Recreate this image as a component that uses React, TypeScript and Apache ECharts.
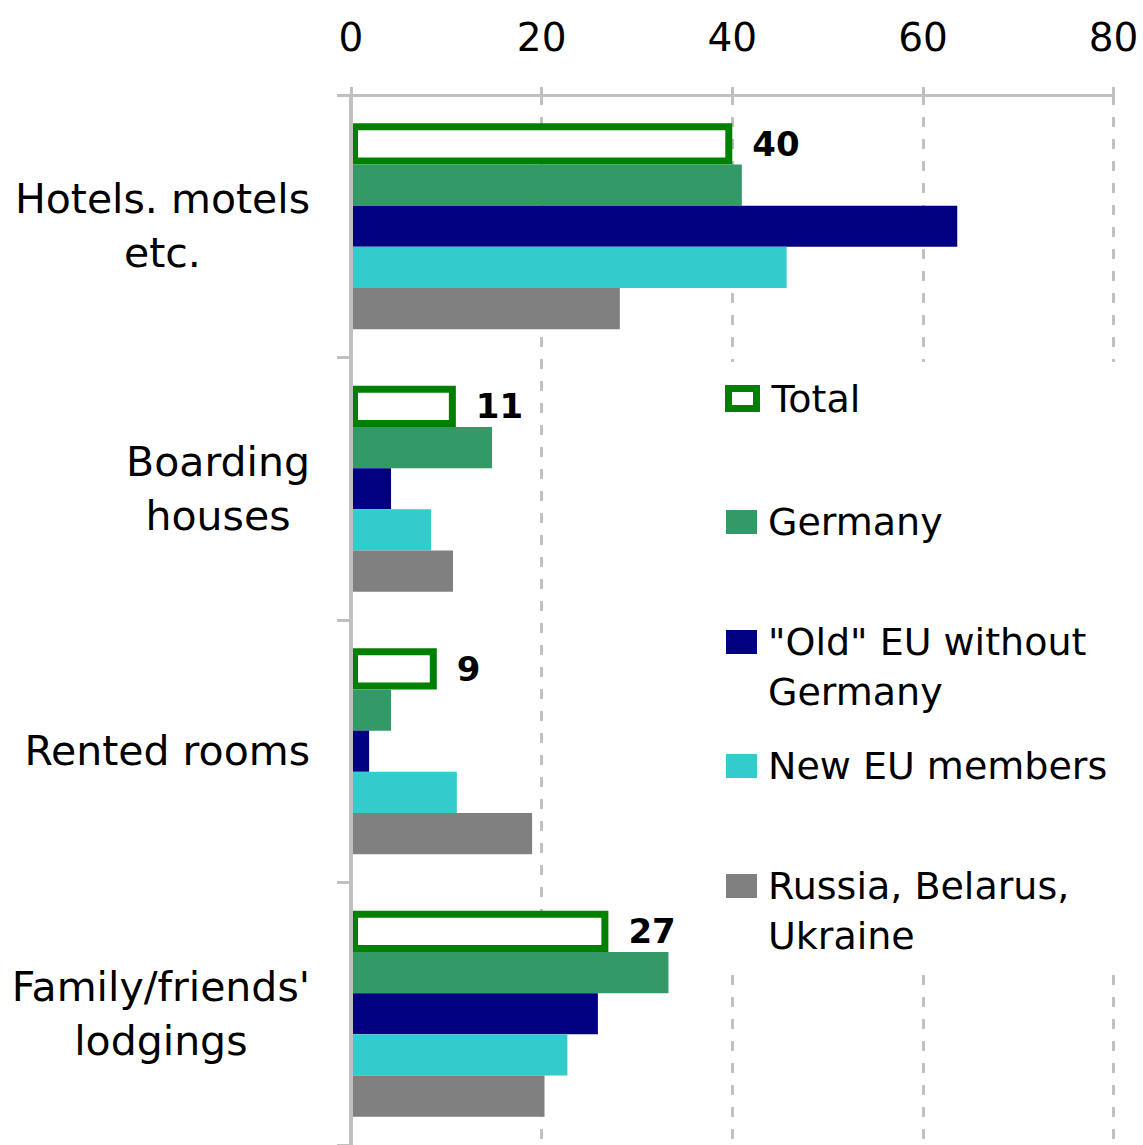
import React, { useEffect, useRef } from "react";
import * as echarts from "echarts";

const categories = [
  "Hotels. motels\netc.",
  "Boarding\nhouses",
  "Rented rooms",
  "Family/friends'\nlodgings",
];
const seriesNames = [
  "Total",
  "Germany",
  "\"Old\" EU without Germany",
  "New EU members",
  "Russia, Belarus, Ukraine",
];
const legendLabels = [
  "Total",
  "Germany",
  "\"Old\" EU without\nGermany",
  "New EU members",
  "Russia, Belarus,\nUkraine",
];
const total = [40, 11, 9, 27];
const germany = [41, 14.8, 4.2, 33.3];
const oldEU = [63.6, 4.2, 1.9, 25.9];
const newEU = [45.7, 8.4, 11.1, 22.7];
const russia = [28.2, 10.7, 19, 20.3];
const xMin = 0;
const xMax = 80;
const xStep = 20;

const FONT = "DejaVu Sans";
const colors = ["#ffffff", "#339966", "#000080", "#33cccc", "#808080"];
const legendTops = [373.5, 497, 567, 741, 811];

export default function App() {
  const ref = useRef<HTMLDivElement>(null);
  useEffect(() => {
    document.body.style.margin = "0";
    const chart = echarts.init(ref.current!, null, { renderer: "svg" });
    const values = [total, germany, oldEU, newEU, russia];
    const series = values.map((d, i) => ({
      type: "bar",
      name: seriesNames[i],
      data: d,
      barGap: "0%",
      barCategoryGap: "21.5%",
      silent: true,
      itemStyle:
        i === 0
          ? { color: "#ffffff", borderColor: "#008000", borderWidth: 7 }
          : { color: colors[i] },
      label:
        i === 0
          ? {
              show: true,
              position: "right",
              distance: 20,
              fontFamily: FONT,
              fontSize: 34,
              fontWeight: "bold",
              color: "#000",
            }
          : { show: false },
    }));
    const legend = seriesNames.map((n, i) => {
      const multi = legendLabels[i].includes("\n");
      return {
        data: [{ name: n, icon: "rect" }],
        left: i === 0 ? 725 : 726,
        top: legendTops[i],
        orient: "vertical",
        padding: 0,
        z: 5,
        selectedMode: false,
        itemWidth: i === 0 ? 28 : 31,
        itemHeight: i === 0 ? 20 : 24,
        itemStyle:
          i === 0
            ? { color: "#ffffff", borderColor: "#008000", borderWidth: 7 }
            : { borderWidth: 0 },
        formatter: () => (multi ? "\n" + legendLabels[i] : legendLabels[i]),
        textStyle: {
          fontFamily: FONT,
          fontSize: 38,
          color: "#000",
          lineHeight: 50,
          padding: [0, 0, 0, i === 0 ? 10 : 6],
        },
      };
    });
    chart.setOption({
      animation: false,
      backgroundColor: "#ffffff",
      grid: { left: 351, right: 29.4, top: 95, height: 1055, containLabel: false },
      xAxis: {
        type: "value",
        position: "top",
        min: xMin,
        max: xMax,
        interval: xStep,
        axisLine: { show: true, lineStyle: { color: "#c0c0c0", width: 3 } },
        axisTick: { show: true, length: 8, lineStyle: { color: "#c0c0c0", width: 3 } },
        axisLabel: {
          margin: 38,
          fontFamily: FONT,
          fontSize: 39,
          color: "#000",
        },
        splitLine: {
          show: true,
          lineStyle: { color: "#c0c0c0", width: 3, type: [10, 12] },
        },
      },
      yAxis: {
        type: "category",
        inverse: true,
        z: 3,
        data: categories,
        axisLine: { show: true, lineStyle: { color: "#c0c0c0", width: 4 } },
        axisTick: { show: true, length: 14, lineStyle: { color: "#c0c0c0", width: 3 } },
        axisLabel: {
          margin: 41,
          fontFamily: FONT,
          fontSize: 41,
          color: "#000",
          lineHeight: 54,
          formatter: (v: string) =>
            v
              .split("\n")
              .map((l) => `{c|${l}}`)
              .join("\n"),
          rich: {
            c: {
              align: "center",
              fontFamily: FONT,
              fontSize: 41,
              color: "#000",
              lineHeight: 54,
            },
          },
        },
        splitLine: { show: false },
      },
      graphic: [
        {
          type: "rect",
          z: 3,
          silent: true,
          shape: { x: 712, y: 362, width: 431, height: 610 },
          style: { fill: "#ffffff" },
        },
      ],
      legend,
      series,
    });
    return () => chart.dispose();
  }, []);
  return <div ref={ref} style={{ width: 1143, height: 1145 }} />;
}
